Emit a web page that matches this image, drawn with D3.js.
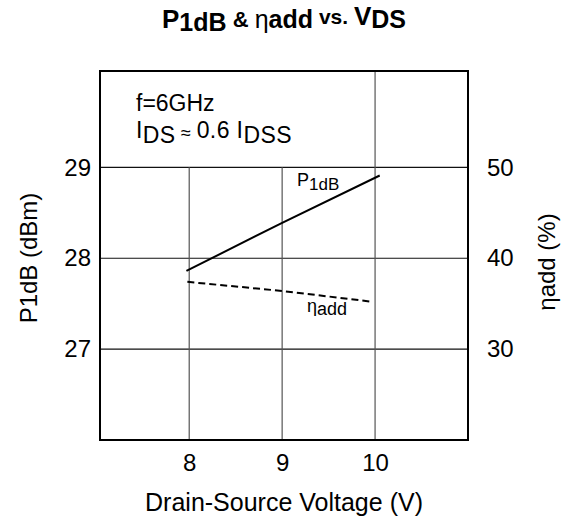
<!DOCTYPE html>
<html>
<head>
<meta charset="utf-8">
<script src="https://cdn.jsdelivr.net/npm/d3@7"></script>
<style>
  body { margin: 0; background: #fff; }
  svg { display: block; font-family: "Liberation Sans", Arial, Helvetica, sans-serif; }
  .axis path { display: none; }
  .axis line { display: none; }
  .axis text { font-family: "Liberation Sans", Arial, sans-serif; font-size: 24px; fill: #000; }
</style>
</head>
<body>
<svg id="chart" width="568" height="527"></svg>
<script>
// data
var vdsP = [7.97, 9, 10.05];
var p1db = [27.86, 28.39, 28.91];
var vdsEta = [7.98, 9, 9.98];
var etaAdd = [37.4, 36.4, 35.2];
var xTicks = [8, 9, 10];
var leftTicks = [27, 28, 29];
var rightTicks = [30, 40, 50];

var svg = d3.select("#chart");

var pLeft = 100, pRight = 468, pTop = 71, pBottom = 440;

var x = d3.scaleLinear().domain([7.04, 11]).range([pLeft, pRight]);
var y = d3.scaleLinear().domain([26, 30.06]).range([pBottom, pTop]);
var y2 = d3.scaleLinear().domain([20, 60.6]).range([pBottom, pTop]);

// title
var title = svg.append("text")
  .attr("x", 284)
  .attr("y", 28)
  .attr("text-anchor", "middle")
  .attr("font-weight", "bold")
  .attr("font-size", 26);
title.append("tspan").text("P");
title.append("tspan").attr("dy", 3).attr("font-size", 25).text("1dB");
title.append("tspan").attr("dy", -4).attr("font-size", 22).text(" & ");
title.append("tspan").attr("dy", 1).attr("font-weight", "normal").attr("font-size", 25).text("η");
title.append("tspan").attr("dy", 0).attr("font-size", 25).text("add");
title.append("tspan").attr("dy", -4).attr("font-size", 21).text(" vs. ");
title.append("tspan").attr("dy", 1).attr("font-size", 26).text("V");
title.append("tspan").attr("dy", 3).attr("font-size", 25).text("DS");

// grid
var grid = svg.append("g").attr("class", "grid");
grid.selectAll("line.h")
  .data(leftTicks)
  .enter().append("line")
  .attr("class", "h")
  .attr("x1", pLeft).attr("x2", pRight)
  .attr("y1", function(d) { return y(d); })
  .attr("y2", function(d) { return y(d); })
  .attr("stroke", "#111")
  .attr("stroke-width", 1.2);

grid.selectAll("line.v")
  .data(xTicks)
  .enter().append("line")
  .attr("class", "v")
  .attr("x1", function(d) { return x(d); })
  .attr("x2", function(d) { return x(d); })
  // the text box hides the upper part of the 8 and 9 lines
  .attr("y1", function(d) { return d < 10 ? y(29) : pTop; })
  .attr("y2", pBottom)
  .attr("stroke", "#555")
  .attr("stroke-width", 1.2);

// frame
svg.append("rect")
  .attr("x", pLeft).attr("y", pTop)
  .attr("width", pRight - pLeft).attr("height", pBottom - pTop)
  .attr("fill", "none")
  .attr("stroke", "#000")
  .attr("stroke-width", 2);

// axes (labels only)
svg.append("g")
  .attr("class", "axis")
  .attr("transform", "translate(0," + pBottom + ")")
  .call(d3.axisBottom(x).tickValues(xTicks).tickSize(0).tickPadding(14).tickFormat(d3.format("d")));

svg.append("g")
  .attr("class", "axis")
  .attr("transform", "translate(" + pLeft + ",0)")
  .call(d3.axisLeft(y).tickValues(leftTicks).tickSize(0).tickPadding(9).tickFormat(d3.format("d")));

svg.append("g")
  .attr("class", "axis")
  .attr("transform", "translate(" + pRight + ",0)")
  .call(d3.axisRight(y2).tickValues(rightTicks).tickSize(0).tickPadding(19).tickFormat(d3.format("d")));

// axis titles
svg.append("text")
  .attr("x", 284).attr("y", 511)
  .attr("text-anchor", "middle")
  .attr("font-size", 25)
  .text("Drain-Source Voltage (V)");

svg.append("text")
  .attr("transform", "translate(37,258) rotate(-90)")
  .attr("text-anchor", "middle")
  .attr("font-size", 24)
  .text("P1dB (dBm)");

var rt = svg.append("text")
  .attr("transform", "translate(555,262) rotate(-90)")
  .attr("text-anchor", "middle")
  .attr("font-size", 24);
rt.append("tspan").text("η");
rt.append("tspan").text("add (%)");

// lines
var lineP = d3.line()
  .x(function(d, i) { return x(vdsP[i]); })
  .y(function(d) { return y(d); });

var lineEta = d3.line()
  .x(function(d, i) { return x(vdsEta[i]); })
  .y(function(d) { return y2(d); });

svg.append("path")
  .datum(p1db)
  .attr("d", lineP)
  .attr("fill", "none")
  .attr("stroke", "#000")
  .attr("stroke-width", 2);

svg.append("path")
  .datum(etaAdd)
  .attr("d", lineEta)
  .attr("fill", "none")
  .attr("stroke", "#000")
  .attr("stroke-width", 2)
  .attr("stroke-dasharray", "7,4");

// in-plot labels
var lp = svg.append("text")
  .attr("x", 297).attr("y", 186)
  .attr("font-size", 18);
lp.append("tspan").text("P");
lp.append("tspan").attr("dy", 4).attr("font-size", 17).text("1dB");

var le = svg.append("text")
  .attr("x", 307).attr("y", 312)
  .attr("font-size", 18);
le.append("tspan").text("η");
le.append("tspan").attr("dy", 3).attr("font-size", 18).text("add");

// condition box text
svg.append("text")
  .attr("x", 136).attr("y", 111)
  .attr("font-size", 23)
  .text("f=6GHz");

var cond = svg.append("text")
  .attr("x", 136).attr("y", 138)
  .attr("font-size", 23)
  .attr("letter-spacing", 0.4);
cond.append("tspan").text("I");
cond.append("tspan").attr("dy", 5).text("DS");
cond.append("tspan").attr("dy", -4).attr("font-size", 18).text(" ≈ ");
cond.append("tspan").attr("dy", -1).text("0.6 I");
cond.append("tspan").attr("dy", 5).text("DSS");
</script>
</body>
</html>
